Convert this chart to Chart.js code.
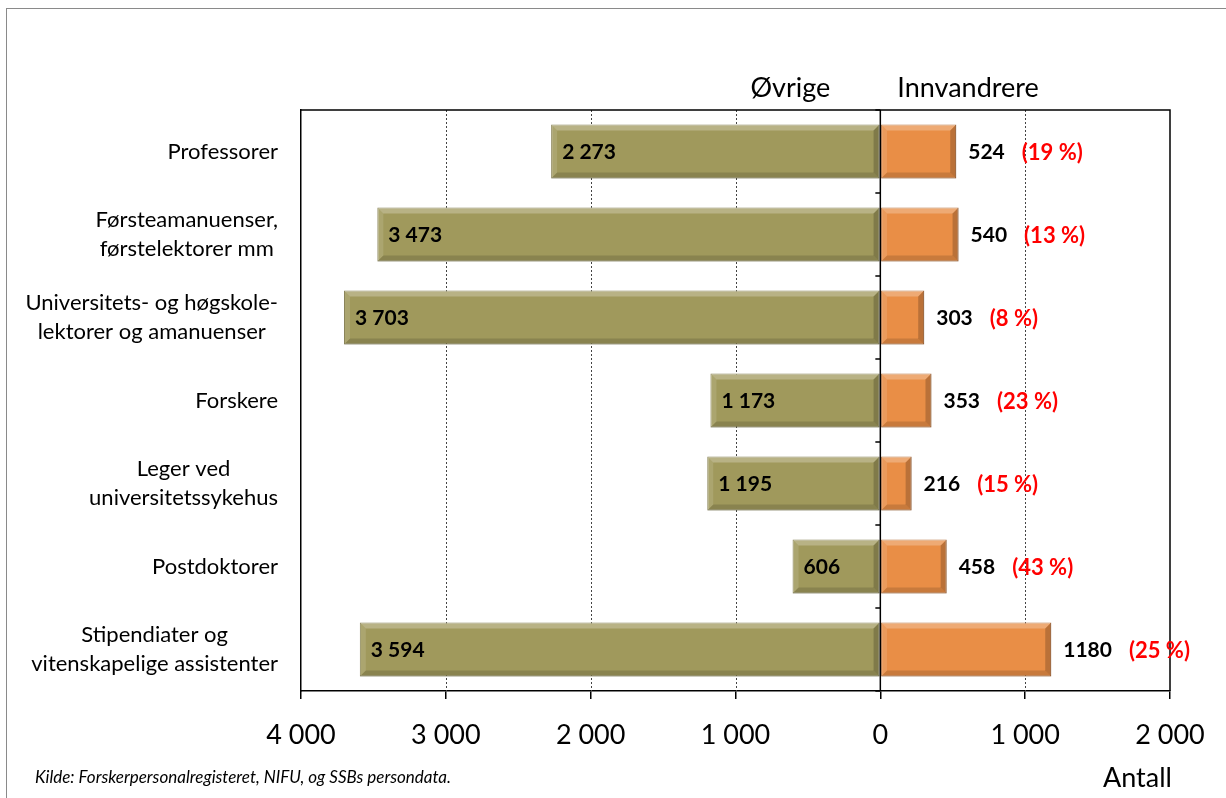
<!DOCTYPE html>
<html lang="no">
<head>
<meta charset="utf-8">
<title>Øvrige og innvandrere</title>
<script src="https://cdn.jsdelivr.net/npm/chart.js@4.4.1/dist/chart.umd.min.js"></script>
<style>
  html, body { margin: 0; padding: 0; background: #fff; }
  body { width: 1226px; height: 798px; overflow: hidden; position: relative; font-family: Lato, "Open Sans", sans-serif; }
  .frame { position: absolute; left: 6px; top: 8px; width: 1300px; height: 900px; border-left: 1.5px solid #8a8a8a; border-top: 1.5px solid #8a8a8a; }
  #chart { position: absolute; left: 0; top: 0; }
  .source { position: absolute; left: 35px; top: 766px; font-size: 17px; font-style: italic; color: #000; }
  .unit { position: absolute; left: 1103px; top: 760px; font-size: 27px; color: #000; }
</style>
</head>
<body>
<div class="frame"></div>
<canvas id="chart" width="1226" height="798"></canvas>
<div class="source">Kilde: Forskerpersonalregisteret, NIFU, og SSBs persondata.</div>
<div class="unit">Antall</div>
<script>
// Data
const categories = [
  ["Professorer"],
  ["Førsteamanuenser,", "førstelektorer mm"],
  ["Universitets- og høgskole-", "lektorer og amanuenser"],
  ["Forskere"],
  ["Leger ved", "universitetssykehus"],
  ["Postdoktorer"],
  ["Stipendiater og", "vitenskapelige assistenter"],
];
const ovrige = [2273, 3473, 3703, 1173, 1195, 606, 3594];
const innvandrere = [524, 540, 303, 353, 216, 458, 1180];
const shareLabels = ["(19 %)", "(13 %)", "(8 %)", "(23 %)", "(15 %)", "(43 %)", "(25 %)"];
const xTicks = [-4000, -3000, -2000, -1000, 0, 1000, 2000];

const FONT = "Lato, 'Open Sans', sans-serif";
const GREEN = "#a0995c";
const ORANGE = "#e98e46";

// thousands with space, e.g. 3 473
const fmt = (v) => String(Math.abs(v)).replace(/\B(?=(\d{3})+(?!\d))/g, " ");

// bevel look like the excel bars
const bevelPlugin = {
  id: "bevel",
  afterDatasetsDraw(chart) {
    const ctx = chart.ctx;
    chart.data.datasets.forEach((ds, di) => {
      chart.getDatasetMeta(di).data.forEach((bar) => {
        const p = bar.getProps(["x", "y", "base", "height"], true);
        const l = Math.min(p.x, p.base), r = Math.max(p.x, p.base);
        const t = p.y - p.height / 2, b = p.y + p.height / 2;
        const bs = Math.min(6, (r - l) / 2);
        const poly = (pts, color) => {
          ctx.beginPath();
          ctx.moveTo(pts[0][0], pts[0][1]);
          pts.slice(1).forEach((pt) => ctx.lineTo(pt[0], pt[1]));
          ctx.closePath();
          ctx.fillStyle = color;
          ctx.fill();
        };
        ctx.save();
        poly([[l, t], [r, t], [r - bs, t + bs], [l + bs, t + bs]], "rgba(255,255,255,0.25)");
        poly([[l, t], [l + bs, t + bs], [l + bs, b - bs], [l, b]], "rgba(255,255,255,0.12)");
        poly([[l, b], [l + bs, b - bs], [r - bs, b - bs], [r, b]], "rgba(0,0,0,0.14)");
        poly([[r, t], [r, b], [r - bs, b - bs], [r - bs, t + bs]], "rgba(0,0,0,0.2)");
        ctx.restore();
      });
    });
  },
};

// gridlines, frame, zero axis and all the text labels
const decoPlugin = {
  id: "deco",
  beforeDatasetsDraw(chart) {
    const { ctx, chartArea: a, scales } = chart;
    ctx.save();
    ctx.strokeStyle = "#444";
    ctx.lineWidth = 1;
    ctx.setLineDash([2, 2]);
    xTicks.forEach((v) => {
      if (v === 0 || v === xTicks[0] || v === xTicks[xTicks.length - 1]) return;
      const x = Math.round(scales.x.getPixelForValue(v)) + 0.5;
      ctx.beginPath();
      ctx.moveTo(x, a.top);
      ctx.lineTo(x, a.bottom);
      ctx.stroke();
    });
    ctx.restore();
  },
  afterDraw(chart) {
    const { ctx, chartArea: a, scales } = chart;
    const x0 = scales.x.getPixelForValue(0);
    ctx.save();

    // top and right frame of plot area
    ctx.strokeStyle = "#000";
    ctx.lineWidth = 1.5;
    ctx.beginPath();
    ctx.moveTo(a.left, a.top);
    ctx.lineTo(a.right, a.top);
    ctx.lineTo(a.right, a.bottom);
    ctx.stroke();

    // zero line with category ticks
    ctx.beginPath();
    ctx.moveTo(x0, a.top);
    ctx.lineTo(x0, a.bottom);
    const n = categories.length;
    for (let i = 0; i <= n; i++) {
      const y = scales.y.getPixelForValue(i - 0.5);
      ctx.moveTo(x0 - 5, y);
      ctx.lineTo(x0, y);
    }
    ctx.stroke();

    // headers
    ctx.fillStyle = "#000";
    ctx.font = "27px " + FONT;
    ctx.textBaseline = "middle";
    ctx.textAlign = "right";
    ctx.fillText("Øvrige", x0 - 50, 88);
    ctx.textAlign = "left";
    ctx.fillText("Innvandrere", x0 + 17, 88);

    // category labels: block right aligned, lines centred
    ctx.font = "22px " + FONT;
    ctx.textAlign = "center";
    categories.forEach((lines, i) => {
      const yc = scales.y.getPixelForValue(i);
      const w = Math.max(...lines.map((s) => ctx.measureText(s).width));
      const cx = a.left - 23 - w / 2;
      const lh = 29;
      lines.forEach((s, j) => {
        ctx.fillText(s, cx, yc + (j - (lines.length - 1) / 2) * lh);
      });
    });

    // value labels
    ctx.font = "bold 21px " + FONT;
    ctx.textAlign = "left";
    ovrige.forEach((v, i) => {
      const yc = scales.y.getPixelForValue(i);
      ctx.fillStyle = "#000";
      ctx.fillText(fmt(v), scales.x.getPixelForValue(-v) + 11, yc + 1);
    });
    innvandrere.forEach((v, i) => {
      const yc = scales.y.getPixelForValue(i);
      const xs = scales.x.getPixelForValue(v) + 12;
      const txt = String(v);
      ctx.font = "bold 21px " + FONT;
      ctx.fillStyle = "#000";
      ctx.fillText(txt, xs, yc + 1);
      const xp = xs + ctx.measureText(txt).width + 17;
      ctx.font = "bold 22px " + FONT;
      ctx.fillStyle = "#ff0000";
      ctx.fillText(shareLabels[i], xp, yc + 1);
    });
    ctx.restore();
  },
};

new Chart(document.getElementById("chart"), {
  type: "bar",
  data: {
    labels: categories,
    datasets: [
      {
        label: "Øvrige",
        data: ovrige.map((v) => -v),
        backgroundColor: GREEN,
        borderColor: "#7a7342",
        borderWidth: 1,
        borderSkipped: false,
        grouped: false,
        barPercentage: 0.65,
        categoryPercentage: 1,
      },
      {
        label: "Innvandrere",
        data: innvandrere,
        backgroundColor: ORANGE,
        borderColor: "#b0642a",
        borderWidth: 1,
        borderSkipped: false,
        grouped: false,
        barPercentage: 0.65,
        categoryPercentage: 1,
      },
    ],
  },
  options: {
    indexAxis: "y",
    responsive: false,
    animation: false,
    events: [],
    layout: { padding: { top: 110, right: 56, left: 0, bottom: 0 } },
    plugins: { legend: { display: false }, tooltip: { enabled: false } },
    scales: {
      x: {
        min: xTicks[0],
        max: xTicks[xTicks.length - 1],
        afterFit: (s) => { s.height = 107; },
        afterBuildTicks: (s) => { s.ticks = xTicks.map((v) => ({ value: v })); },
        grid: { drawOnChartArea: false, color: "#000", tickLength: 8, lineWidth: 1.5 },
        border: { color: "#000", width: 1.5 },
        ticks: {
          color: "#000",
          font: { family: FONT, size: 27 },
          padding: 20,
          maxRotation: 0,
          callback: (v) => fmt(v),
        },
      },
      y: {
        afterFit: (s) => { s.width = 301; },
        grid: { display: false },
        border: { color: "#000", width: 1.5 },
        ticks: { display: false },
      },
    },
  },
  plugins: [bevelPlugin, decoPlugin],
});
</script>
</body>
</html>
